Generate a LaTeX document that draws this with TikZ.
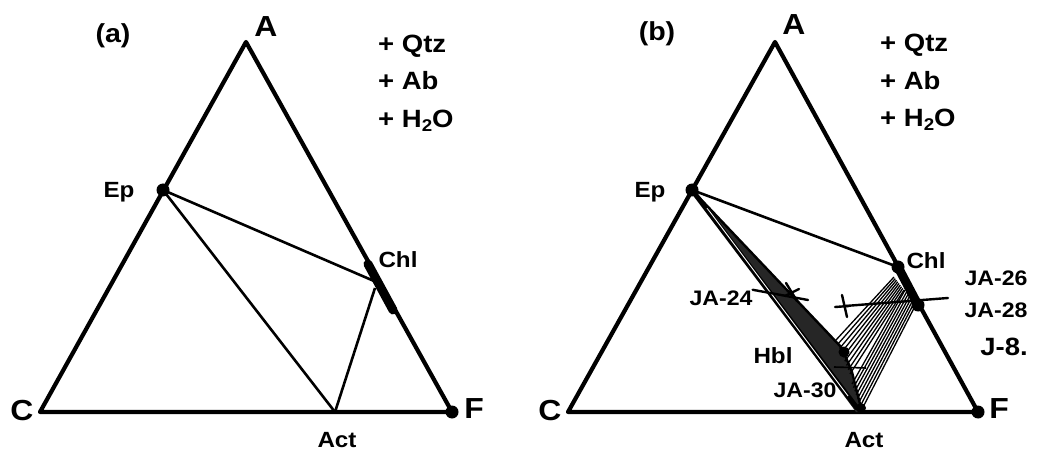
\documentclass[tikz,border=0pt]{standalone}
\usepackage{fontspec}
\setmainfont{Liberation Sans}[FakeStretch=1.1]
\usetikzlibrary{calc}
\begin{document}
\begin{tikzpicture}[x=1pt,y=-1pt,
  edge/.style={line width=4.2pt, line join=round},
  tie/.style={line width=2.6pt},
  fan/.style={line width=1.3pt},
  hand/.style={line width=2.4pt, line cap=round},
  dot/.style={circle, fill=black, inner sep=0pt, minimum size=13pt},
  big/.style={font=\bfseries\fontsize{29}{32}\selectfont, inner sep=0pt, anchor=base},
  mid/.style={font=\bfseries\fontsize{22}{24}\selectfont, inner sep=0pt, anchor=base},
  panel/.style={font=\bfseries\fontsize{26}{28}\selectfont, inner sep=0pt, anchor=base},
  extra/.style={font=\bfseries\fontsize{25}{27}\selectfont, inner sep=0pt, anchor=base west},
  hw/.style={font=\bfseries\fontsize{21}{24}\selectfont, inner sep=0pt, anchor=base}]
\useasboundingbox (0,0) rectangle (1038,454);

% ---------------- panel (a) ----------------
\coordinate (aA) at (246,42);
\coordinate (aC) at (40,412);
\coordinate (aF) at (452,412);
\coordinate (aEp) at (163,190);
\coordinate (aAct) at (335,412);
\coordinate (aChlT) at (368,264);
\coordinate (aChlB) at (393,310);
\coordinate (aChlE) at (374,281);
\coordinate (aChlA) at (375,288);

\draw[edge] (aA) -- (aC) -- (aF) -- cycle;
\draw[tie] (aEp) -- (aChlE);
\draw[tie] (aEp) -- (aAct);
\draw[tie] (aAct) -- (aChlA);
\draw[line width=9pt, line cap=round] (aChlT) -- (aChlB);
\node[dot] (aEpDot) at (aEp) {};
\node[dot] (aFDot) at (aF) {};

\node[panel] (aLab) at (113,43) {(a)};
\node[big] (aALab) at (266,37) {A};
\node[big] (aCLab) at (22,420) {C};
\node[big] (aFLab) at (474,418) {F};
\node[mid] (aEpLab) at (119,198) {Ep};
\node[mid] (aChlLab) at (398,268) {Chl};
\node[mid] (aActLab) at (337,447) {Act};
\node[extra] (aQtz) at (378,53) {+ Qtz};
\node[extra] (aAb) at (378,90) {+ Ab};
\node[extra] (aH) at (378,128) {+ H\raisebox{-0.3ex}{\fontsize{17}{17}\selectfont 2}O};

% ---------------- panel (b) ----------------
\coordinate (bA) at (775,42);
\coordinate (bC) at (568,412);
\coordinate (bF) at (978,412);
\coordinate (bEp) at (692,190);
\coordinate (bAct) at (862,412);
\coordinate (bChl) at (898,267);
\coordinate (bChlB) at (918,305);
\coordinate (bHbl) at (842,348);
\coordinate (bHblB) at (852,372);

\draw[edge] (bA) -- (bC) -- (bF) -- cycle;
\draw[tie] (bEp) -- (bChl);
% hornblende band
\fill[black!85] (bEp) -- (bHbl) -- (bHblB) -- (bAct) -- (856,412) -- cycle;
\draw[line width=5pt, line cap=round] (bEp) -- (857,408);
\draw[white, line width=0.9pt] (707,208) -- (848,396);
\draw[line width=2.4pt] (bEp) -- (bHbl) -- (bHblB) -- (bAct);
% tie-line fans
\foreach \t in {0,0.125,...,1.01} {
  \draw[fan] ($(836,340)!\t!(850,374)$) -- ($(894,277)!\t!(904,290)$);
}
\foreach \t in {0,0.14,...,1.01} {
  \draw[fan] ($(852,384)!\t!(862,410)$) -- ($(905,290)!\t!(916,305)$);
}
\draw[line width=9pt, line cap=round] (bChl) -- (bChlB);
\node[dot] (bEpDot) at (bEp) {};
\node[dot] (bChlDot) at (bChl) {};
\node[dot] (bChlBDot) at (bChlB) {};
\node[dot] (bFDot) at (bF) {};
\node[dot, minimum size=10pt] (bActDot) at (861,408) {};
\node[dot, minimum size=11pt] (bHblDot) at (844,352) {};

% hand-drawn sample marks
\coordinate (x24) at (792,292);
\coordinate (x26) at (845,306);
\coordinate (e24) at (808,300);
\coordinate (e26) at (948,298);
\coordinate (e30) at (866,368);
\coordinate (s30) at (834,367);

\node[hw] (ja24) at (721,305) {JA-24};
\node[hw] (ja26) at (996,285) {JA-26};
\node[hw] (ja28) at (996,317) {JA-28};
\node[hw, font=\bfseries\fontsize{25}{28}\selectfont] (j8) at (1004,355) {J-8.};
\node[hw] (ja30) at (805,397) {JA-30};

\draw[hand] (ja24.east) ++(0,-8) coordinate (s24) -- (e24);
\draw[hand] ($(x24)+(-6,-9)$) -- ($(x24)+(5,9)$);
\draw[hand] ($(x24)+(-7,4)$) -- ($(x24)+(7,-3)$);
\draw[hand] (x26) -- (e26);
\draw[hand] ($(x26)+(-3,-11)$) -- ($(x26)+(2,11)$);
\draw[hand] ($(x26)+(-10,1)$) -- ($(x26)+(4,0)$);
\draw[line width=1.6pt] (s30) -- (e30);

\node[panel] (bLab) at (657,41) {(b)};
\node[big] (bALab) at (794,35) {A};
\node[big] (bCLab) at (550,420) {C};
\node[big] (bFLab) at (999,418) {F};
\node[mid] (bEpLab) at (650,198) {Ep};
\node[mid] (bChlLab) at (926,269) {Chl};
\node[mid] (bActLab) at (864,447) {Act};
\node[mid] (bHblLab) at (773,363) {Hbl};
\node[extra] (bQtz) at (880,52) {+ Qtz};
\node[extra] (bAb) at (880,90) {+ Ab};
\node[extra] (bH) at (880,127) {+ H\raisebox{-0.3ex}{\fontsize{17}{17}\selectfont 2}O};
\end{tikzpicture}
\end{document}
